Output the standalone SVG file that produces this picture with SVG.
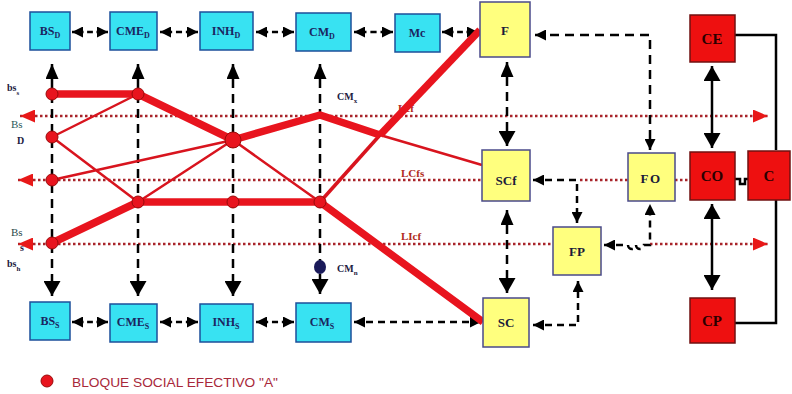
<svg xmlns="http://www.w3.org/2000/svg" width="792" height="394" viewBox="0 0 792 394">
  <style>
    .cy{fill:#38e2f2;stroke:#1d4f9a;stroke-width:1.5}
    .ye{fill:#ffff7e;stroke:#4a4a8a;stroke-width:1.5}
    .rd{fill:#ee1010;stroke:#701010;stroke-width:1.5}
    .lb{font-family:"Liberation Serif",serif;font-weight:bold;font-size:12px;fill:#1b2560;text-anchor:middle}
    .lby{font-family:"Liberation Serif",serif;font-weight:bold;font-size:13px;fill:#1b1b3a;text-anchor:middle}
    .lbr{font-family:"Liberation Serif",serif;font-weight:bold;font-size:15px;fill:#2a0000;text-anchor:middle}
    .lk{font-family:"Liberation Serif",serif;font-weight:bold;font-size:11px;fill:#b02a20}
    .sd{font-family:"Liberation Serif",serif;font-weight:bold;font-size:10px;fill:#1b2040}
    .dot{fill:none;stroke:#a8242a;stroke-width:2.5;stroke-dasharray:2.5 2.5}
    .dash{fill:none;stroke:#000;stroke-width:2.5;stroke-dasharray:9 6}
    .dsh{fill:none;stroke:#000;stroke-width:2.5;stroke-dasharray:7 5}
    .bi{fill:none;stroke:#000;stroke-width:2.5;stroke-dasharray:32 10 16 10 32}
    .sol{fill:none;stroke:#000;stroke-width:2.5}
    .thk{fill:none;stroke:#e8141e;stroke-width:7.5;stroke-linejoin:round}
    .thn{fill:none;stroke:#d8141e;stroke-width:2.5}
    .nd{fill:#e8141e;stroke:#9a0a0a;stroke-width:1}
  </style>
  <defs>
    <marker id="a" viewBox="0 0 10 10" refX="10" refY="5" markerWidth="11" markerHeight="11" markerUnits="userSpaceOnUse" orient="auto-start-reverse" preserveAspectRatio="none"><path d="M0,0L10,5L0,10z" fill="#000"/></marker>
    <marker id="at" viewBox="0 0 10 10" refX="10" refY="5" markerWidth="15" markerHeight="13" markerUnits="userSpaceOnUse" orient="auto-start-reverse" preserveAspectRatio="none"><path d="M0,0L10,5L0,10z" fill="#000"/></marker>
    <marker id="ab" viewBox="0 0 10 10" refX="10" refY="5" markerWidth="15" markerHeight="17" markerUnits="userSpaceOnUse" orient="auto-start-reverse" preserveAspectRatio="none"><path d="M0,0L10,5L0,10z" fill="#000"/></marker>
    <marker id="aL" viewBox="0 0 10 10" refX="10" refY="5" markerWidth="15" markerHeight="17" markerUnits="userSpaceOnUse" orient="auto-start-reverse" preserveAspectRatio="none"><path d="M0,0L10,5L0,10z" fill="#000"/></marker>
    <marker id="ar" viewBox="0 0 10 10" refX="10" refY="5" markerWidth="15" markerHeight="13" markerUnits="userSpaceOnUse" orient="auto-start-reverse" preserveAspectRatio="none"><path d="M0,0L10,5L0,10z" fill="#e81818"/></marker>
  </defs>

  <!-- dotted boundary lines -->
  <g id="limits">
    <path class="dot" d="M20,116H768" marker-start="url(#ar)" marker-end="url(#ar)"/>
    <path class="dot" d="M18,180H482" marker-start="url(#ar)"/>
    <path class="dot" d="M580,180H628M675,180H690"/>
    <path class="dot" d="M18,244H553" marker-start="url(#ar)"/>
    <path class="dot" d="M650,244H768" marker-end="url(#ar)"/>
  </g>

  <!-- line labels -->
  <g id="line-labels">
    <text class="lk" x="398" y="112">Lcf</text>
    <text class="lk" x="401" y="177">LCfs</text>
    <text class="lk" x="401" y="240">LIcf</text>
  </g>

  <!-- connectors -->
  <g id="connectors">
    <!-- column links -->
    <path class="dash" d="M52,64V296" marker-start="url(#at)" marker-end="url(#ab)"/>
    <path class="dash" d="M138,64V296" marker-start="url(#at)" marker-end="url(#ab)"/>
    <path class="dash" d="M233,64V296" marker-start="url(#at)" marker-end="url(#ab)"/>
    <path class="dash" d="M320,64V294" marker-start="url(#at)" marker-end="url(#ab)"/>
    <path class="dash" d="M507,62V146" marker-start="url(#at)" marker-end="url(#ab)"/>
    <path class="dash" d="M507,210V293" marker-start="url(#at)" marker-end="url(#ab)"/>
    <!-- top row -->
    <path class="bi" pathLength="100" d="M72,32H108" marker-start="url(#a)" marker-end="url(#a)"/>
    <path class="bi" pathLength="100" d="M160,32H198" marker-start="url(#a)" marker-end="url(#a)"/>
    <path class="bi" pathLength="100" d="M256,32H294" marker-start="url(#a)" marker-end="url(#a)"/>
    <path class="bi" pathLength="100" d="M354,32H393" marker-start="url(#a)" marker-end="url(#a)"/>
    <path class="bi" pathLength="100" d="M442,32H478" marker-start="url(#a)" marker-end="url(#a)"/>
    <!-- bottom row -->
    <path class="bi" pathLength="100" d="M72,322H108" marker-start="url(#a)" marker-end="url(#a)"/>
    <path class="bi" pathLength="100" d="M160,322H198" marker-start="url(#a)" marker-end="url(#a)"/>
    <path class="bi" pathLength="100" d="M256,322H294" marker-start="url(#a)" marker-end="url(#a)"/>
    <path class="dsh" d="M354,322H481" marker-start="url(#a)" marker-end="url(#a)"/>
    <!-- yellow block links -->
    <path class="dash" d="M535,35H650V150" marker-start="url(#a)" marker-end="url(#a)"/>
    <path class="dsh" d="M533,180H577V223" marker-start="url(#a)" marker-end="url(#a)"/>
    <path class="dsh" d="M604,245H628a4,4 0 0 0 8,0a4,4 0 0 0 8,0H650V204" marker-start="url(#a)" marker-end="url(#a)"/>
    <path class="dsh" d="M533,325H578V281" marker-start="url(#a)" marker-end="url(#a)"/>
    <!-- red block links -->
    <path class="sol" d="M712,66V148" marker-start="url(#aL)" marker-end="url(#aL)"/>
    <path class="sol" d="M712,204V290" marker-start="url(#aL)" marker-end="url(#aL)"/>
    <path class="sol" d="M735,35H776V150M776,200V323H735"/>
    <path class="sol" d="M735,179H740V184H745V179H748"/>
  </g>

  <!-- effective social block paths -->
  <g id="block-paths">
    <path class="thn" d="M52,137L138,94M52,137L138,202M52,180L233,140M138,202L233,140M233,140L320,202M380,135L482,165"/>
    <path class="thn" style="stroke-width:3.5" d="M380,135L320,202"/>
    <path class="thk" d="M52,94H138L233,140L320,115L380,135"/>
    <path class="thk" d="M480,30L380,135"/>
    <path class="thk" d="M52,243L138,202H320L483,322"/>
    <circle class="nd" cx="52" cy="94" r="6"/>
    <circle class="nd" cx="138" cy="94" r="6"/>
    <circle class="nd" cx="52" cy="137" r="6"/>
    <circle class="nd" cx="52" cy="180" r="6"/>
    <circle class="nd" cx="52" cy="243" r="6"/>
    <circle class="nd" cx="233" cy="140" r="8"/>
    <circle class="nd" cx="138" cy="202" r="6"/>
    <circle class="nd" cx="233" cy="202" r="6"/>
    <circle class="nd" cx="320" cy="202" r="6"/>
    <ellipse cx="320" cy="267" rx="6" ry="7" fill="#1a1a5a"/>
  </g>

  <!-- top row -->
  <g id="BSD"><rect class="cy" x="30" y="12" width="40" height="38"/><text class="lb" x="50" y="35">BS<tspan font-size="8" dy="3">D</tspan></text></g>
  <g id="CMED"><rect class="cy" x="110" y="12" width="47" height="38"/><text class="lb" x="133" y="35">CME<tspan font-size="8" dy="3">D</tspan></text></g>
  <g id="INHD"><rect class="cy" x="200" y="12" width="53" height="38"/><text class="lb" x="226" y="35">INH<tspan font-size="8" dy="3">D</tspan></text></g>
  <g id="CMD"><rect class="cy" x="296" y="13" width="55" height="38"/><text class="lb" x="322" y="36">CM<tspan font-size="8" dy="3">D</tspan></text></g>
  <g id="Mc"><rect class="cy" x="395" y="14" width="45" height="38"/><text class="lb" x="417" y="37">Mc</text></g>
  <g id="F"><rect class="ye" x="480" y="2" width="50" height="55"/><text class="lby" x="505" y="35">F</text></g>

  <!-- bottom row -->
  <g id="BSS"><rect class="cy" x="30" y="302" width="40" height="38"/><text class="lb" x="50" y="325">BS<tspan font-size="8" dy="3">S</tspan></text></g>
  <g id="CMES"><rect class="cy" x="110" y="304" width="47" height="38"/><text class="lb" x="133" y="326">CME<tspan font-size="8" dy="3">S</tspan></text></g>
  <g id="INHS"><rect class="cy" x="200" y="304" width="53" height="38"/><text class="lb" x="226" y="326">INH<tspan font-size="8" dy="3">S</tspan></text></g>
  <g id="CMS"><rect class="cy" x="296" y="303" width="55" height="39"/><text class="lb" x="322" y="326">CM<tspan font-size="8" dy="3">S</tspan></text></g>
  <g id="SC"><rect class="ye" x="483" y="298" width="46" height="49"/><text class="lby" x="506" y="327">SC</text></g>

  <!-- middle blocks -->
  <g id="SCf"><rect class="ye" x="482" y="150" width="48" height="51"/><text class="lby" x="506" y="185">SCf</text></g>
  <g id="FO"><rect class="ye" x="628" y="153" width="47" height="48"/><text class="lby" x="651" y="183" letter-spacing="1.5">FO</text></g>
  <g id="FP"><rect class="ye" x="553" y="227" width="48" height="48"/><text class="lby" x="577" y="256">FP</text></g>

  <!-- red blocks -->
  <g id="CE"><rect class="rd" x="690" y="15" width="45" height="47"/><text class="lbr" x="712" y="44">CE</text></g>
  <g id="CO"><rect class="rd" x="690" y="152" width="45" height="48"/><text class="lbr" x="712" y="181">CO</text></g>
  <g id="C"><rect class="rd" x="748" y="151" width="42" height="49"/><text class="lbr" x="769" y="181">C</text></g>
  <g id="CP"><rect class="rd" x="690" y="298" width="45" height="45"/><text class="lbr" x="712" y="326">CP</text></g>

  <!-- side labels -->
  <g id="labels">
    <text class="sd" x="7" y="91">bs<tspan font-size="7" dy="4">s</tspan></text>
    <text x="11" y="128" font-family="Liberation Serif,serif" font-size="11" fill="#2a5a5a">Bs</text>
    <text class="sd" x="17" y="144" font-size="9">D</text>
    <text x="11" y="236" font-family="Liberation Serif,serif" font-size="11" fill="#2a4a4a">Bs</text>
    <text class="sd" x="20" y="251" font-size="8">s</text>
    <text class="sd" x="7" y="267">bs<tspan font-size="7" dy="4">h</tspan></text>
    <text class="sd" x="337" y="100">CM<tspan font-size="7" dy="3">x</tspan></text>
    <text class="sd" x="337" y="272">CM<tspan font-size="7" dy="3">n</tspan></text>
  </g>

  <!-- legend -->
  <g id="legend">
    <circle class="nd" cx="47" cy="381" r="6"/>
    <text x="72" y="387" font-family="Liberation Sans,Arial,sans-serif" font-size="13" fill="#a8283a" textLength="206" lengthAdjust="spacingAndGlyphs">BLOQUE SOCIAL EFECTIVO "A"</text>
  </g>
</svg>
